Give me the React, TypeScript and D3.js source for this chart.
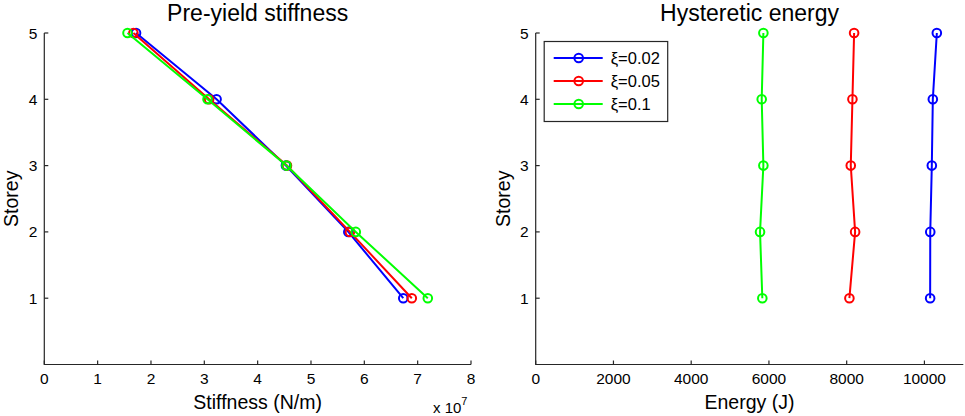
import * as d3 from 'd3'

const storeys = [1, 2, 3, 4, 5]
const dampingLabels = ['ξ=0.02', 'ξ=0.05', 'ξ=0.1']
const colors = ['#0000ff', '#ff0000', '#00ff00']

// stiffness in units of 1e7 N/m, storey 1..5
const stiffBlue = [6.73, 5.7, 4.53, 3.23, 1.72]
const stiffRed = [6.89, 5.73, 4.55, 3.09, 1.67]
const stiffGreen = [7.19, 5.84, 4.54, 3.06, 1.56]

// hysteretic energy (J), storey 1..5
const energyBlue = [10147, 10150, 10190, 10216, 10319]
const energyRed = [8070, 8217, 8105, 8148, 8191]
const energyGreen = [5830, 5771, 5857, 5814, 5857]

const stiffTicks = [0, 1, 2, 3, 4, 5, 6, 7, 8]
const energyTicks = [0, 2000, 4000, 6000, 8000, 10000]
const storeyTicks = [1, 2, 3, 4, 5]

const W = 965
const H = 416
const axisColor = '#262626'
const font = '"Liberation Sans", Arial, sans-serif'

type PanelProps = {
  x0: number
  x1: number
  domain: [number, number]
  ticks: number[]
  series: number[][]
  title: string
  xLabel: string
  exponent?: boolean
  legend?: boolean
}

const yTop = 33
const yBottom = 364.5

function Panel({ x0, x1, domain, ticks, series, title, xLabel, exponent, legend }: PanelProps) {
  const x = d3.scaleLinear().domain(domain).range([x0, x1])
  const y = d3.scaleLinear().domain([0, 5]).range([yBottom, yTop])
  const line = d3
    .line<[number, number]>()
    .x((d) => x(d[0]))
    .y((d) => y(d[1]))
  const cx = (x0 + x1) / 2

  return (
    <g>
      <text x={cx} y={20.5} textAnchor="middle" fontSize={23} fill="#000">
        {title}
      </text>
      <path d={`M${x0},${yTop}V${yBottom}H${x1}`} fill="none" stroke={axisColor} strokeWidth={1.2} />
      {ticks.map((t) => (
        <g key={t} transform={`translate(${x(t)},${yBottom})`}>
          <line y2={-4} stroke={axisColor} strokeWidth={1.2} />
          <text y={19.5} textAnchor="middle" fontSize={15.5} fill="#000">
            {t}
          </text>
        </g>
      ))}
      {storeyTicks.map((t) => (
        <g key={t} transform={`translate(${x0},${y(t)})`}>
          <line x2={4} stroke={axisColor} strokeWidth={1.2} />
          <text x={-7} dy="0.36em" textAnchor="end" fontSize={15.5} fill="#000">
            {t}
          </text>
        </g>
      ))}
      <text x={cx} y={409} textAnchor="middle" fontSize={19.5} fill="#000">
        {xLabel}
      </text>
      <text
        transform={`translate(${x0 - 26},${(yTop + yBottom) / 2}) rotate(-90)`}
        textAnchor="middle"
        fontSize={19.5}
        fill="#000"
      >
        Storey
      </text>
      {exponent && (
        <text x={x1 - 38} y={413} fontSize={15} fill="#000">
          x 10
          <tspan dy={-8} fontSize={11}>
            7
          </tspan>
        </text>
      )}
      {series.map((vals, i) => {
        const pts = vals.map((v, j) => [v, storeys[j]] as [number, number])
        return (
          <g key={i} stroke={colors[i]} fill="none" strokeWidth={2}>
            <path d={line(pts)!} />
            {pts.map((p, j) => (
              <circle key={j} cx={x(p[0])} cy={y(p[1])} r={4.3} />
            ))}
          </g>
        )
      })}
      {legend && (
        <g>
          <rect x={x0 + 8.5} y={41.5} width={123.5} height={80} fill="#fff" stroke={axisColor} strokeWidth={1.2} />
          {dampingLabels.map((lab, i) => {
            const ly = 58 + i * 23
            return (
              <g key={lab}>
                <line x1={x0 + 18} x2={x0 + 67} y1={ly} y2={ly} stroke={colors[i]} strokeWidth={2} />
                <circle cx={x0 + 43} cy={ly} r={4.3} fill="none" stroke={colors[i]} strokeWidth={2} />
                <text x={x0 + 75} y={ly} dy="0.36em" fontSize={16.5} fill="#000">
                  {lab}
                </text>
              </g>
            )
          })}
        </g>
      )}
    </g>
  )
}

export default function App() {
  return (
    <svg
      width={W}
      height={H}
      style={{ position: 'absolute', left: 0, top: 0, background: '#fff' }}
      fontFamily={font}
    >
      <rect width={W} height={H} fill="#fff" />
      <Panel
        x0={44.3}
        x1={471}
        domain={[0, 8]}
        ticks={stiffTicks}
        series={[stiffBlue, stiffRed, stiffGreen]}
        title="Pre-yield stiffness"
        xLabel="Stiffness (N/m)"
        exponent
      />
      <Panel
        x0={535.7}
        x1={963.3}
        domain={[0, 11000]}
        ticks={energyTicks}
        series={[energyBlue, energyRed, energyGreen]}
        title="Hysteretic energy"
        xLabel="Energy (J)"
        legend
      />
    </svg>
  )
}
